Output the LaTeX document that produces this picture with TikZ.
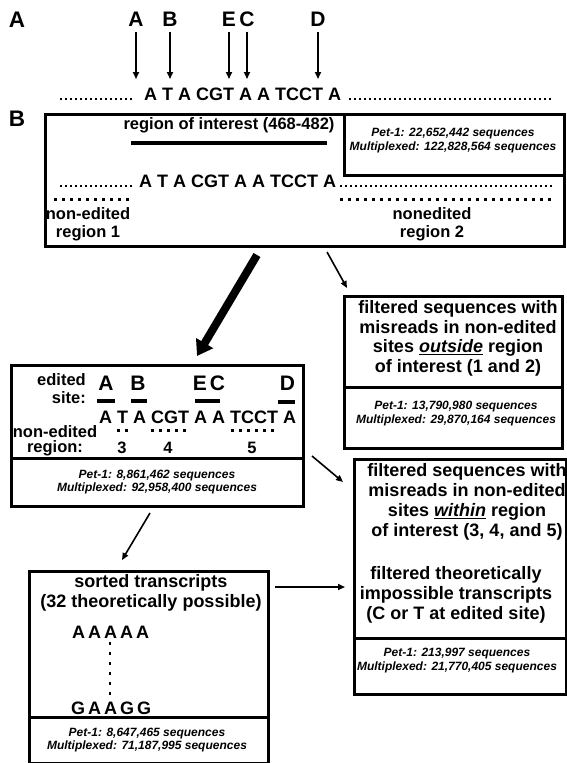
\documentclass[tikz,border=0pt]{standalone}
\usepackage{fontspec}
\setmainfont{Liberation Sans}
\usetikzlibrary{arrows.meta}

\newcommand\bodyfont{\fontsize{18}{19.5}\selectfont\bfseries}
\newcommand\midfont{\fontsize{16.5}{18}\selectfont\bfseries}
\newcommand\statfont{\fontsize{12}{13.8}\selectfont\bfseries\itshape}
\newcommand\sitefont{\fontsize{21}{22}\selectfont\bfseries}
\newcommand\panelfont{\fontsize{22.5}{24}\selectfont\bfseries}

\begin{document}
\begin{tikzpicture}[x=1pt,y=-1pt,
  box/.style={draw, line width=3pt, rectangle, anchor=north west, inner sep=0pt},
  rule/.style={line width=3pt},
  conn/.style={line width=1.6pt, -{Triangle[width=6pt,length=7pt]}},
  fatconn/.style={line width=8pt, -{Triangle[width=19pt,length=15pt]}},
  periods/.style={line width=1.6pt, dash pattern=on 1.6pt off 3.4pt},
  squares/.style={line width=3pt, dash pattern=on 3pt off 5pt},
  colrule/.style={line width=2.5pt, dash pattern=on 2.5pt off 7.5pt},
  bar/.style={line width=3.5pt},
  lbl/.style={inner sep=0pt},
  body/.style={lbl, font=\bodyfont, align=center},
  med/.style={lbl, font=\midfont, align=center},
  stat/.style={lbl, font=\statfont, align=center},
  site/.style={lbl, font=\sitefont},
  seq/.style={lbl, font=\bodyfont, anchor=west},
  panel/.style={lbl, font=\panelfont}]

\useasboundingbox (0,0) rectangle (566,763);

% ---------- panel A: edited sites on the sequence
\node[panel] (labA) at (17,20) {A};
\foreach \n/\x/\t in {sA/136/A, sB/170/B, sE/229/E, sC/247/C, sD/318/D} {
  \node[site] (\n) at (\x,19.5) {\t};
  \coordinate (\n-top) at (\x,32);
  \coordinate (\n-tip) at (\x,79);
  \draw[conn] (\n-top) -- (\n-tip);
}
\node[seq] (seqA) at (144,94) {A T A CGT A A TCCT A};
\draw[periods] (60,99) -- (134,99);
\draw[periods] (349,99) -- (553,99);

% ---------- panel B: full read
\node[panel] (labB) at (17,119) {B};
\node[box, minimum width=519pt, minimum height=132pt] (boxB) at (44,113) {};
\node[box, minimum width=220pt, minimum height=61pt] (statB) at (343,113) {};
\node[stat] (statBt) at (453,140.5) {Pet-1: 22,652,442 sequences\\Multiplexed: 122,828,564 sequences};
\node[med] (roi) at (229,125) {region of interest (468-482)};
\draw[line width=4pt] (131,143) -- (327,143);
\node[seq] (seqB) at (139,181) {A T A CGT A A TCCT A};
\draw[periods] (60,186) -- (132,186);
\draw[periods] (340,186) -- (553,186);
\draw[squares] (54,199) -- (132,199);
\draw[squares] (340,199) -- (553,199);
\node[med] (ne1) at (88,224) {non-edited\\region 1};
\node[med] (ne2) at (432,224) {nonedited\\region 2};

% ---------- filtered outside the region of interest
\node[box, minimum width=218pt, minimum height=152pt] (boxO) at (343,295) {};
\draw[rule] (343,387) -- (561,387);
\node[body] (txtO) at (458,338.5) {filtered sequences with\\misreads in non-edited\\sites \underline{\textit{outside}} region\\of interest (1 and 2)};
\node[stat] (statO) at (456,413.5) {Pet-1: 13,790,980 sequences\\Multiplexed: 29,870,164 sequences};

% ---------- region of interest with edited sites
\node[box, minimum width=292pt, minimum height=141pt] (boxM) at (10,364) {};
\draw[rule] (10,458) -- (302,458);
\node[med, align=right, anchor=east] (edl) at (86,389) {edited\\site:};
\foreach \n/\x/\t in {mA/106/A, mB/138/B, mE/200/E, mC/217.5/C, mD/287.5/D}
  \node[site] (\n) at (\x,383) {\t};
\draw[bar] (97,401) -- (115,401);
\draw[bar] (131,401) -- (147,401);
\draw[bar] (195,401) -- (220,401);
\draw[bar] (278,402) -- (295,402);
\node[seq] (seqM) at (99,417) {A T A CGT A A TCCT A};
\draw[squares] (117,430) -- (129,430);
\draw[squares] (151,430) -- (187,430);
\draw[squares] (231,430) -- (275,430);
\node[med, font=\fontsize{16.5}{15.5}\selectfont\bfseries] (nel) at (55,441) {non-edited\\region:};
\node[med] (r3) at (122,448) {3};
\node[med] (r4) at (168,448) {4};
\node[med] (r5) at (252,448) {5};
\node[stat] (statM) at (157,482) {Pet-1: 8,861,462 sequences\\Multiplexed: 92,958,400 sequences};

% ---------- filtered within the region of interest
\node[box, minimum width=212pt, minimum height=235pt] (boxW) at (353,458) {};
\draw[rule] (353,638) -- (565,638);
\node[body, font=\fontsize{18}{20}\selectfont\bfseries] (txtW) at (467,502) {filtered sequences with\\misreads in non-edited\\sites \underline{\textit{within}} region\\of interest (3, 4, and 5)};
\node[body, font=\fontsize{18}{20}\selectfont\bfseries] (txtI) at (456,595) {filtered theoretically\\impossible transcripts\\(C or T at edited site)};
\node[stat] (statW) at (457,660.5) {Pet-1: 213,997 sequences\\Multiplexed: 21,770,405 sequences};

% ---------- sorted transcripts
\node[box, minimum width=239pt, minimum height=192pt] (boxS) at (28,570) {};
\draw[rule] (28,717) -- (267,717);
\node[body, font=\fontsize{18}{20}\selectfont\bfseries] (txtS) at (151,593) {sorted transcripts\\(32 theoretically possible)};
\node[seq] (aaaaa) at (72,632) {A\,A\,A\,A\,A};
\draw[colrule] (110,642) -- (110,697);
\node[seq] (gaagg) at (71,708) {G\,A\,A\,G\,G};
\node[stat] (statS) at (147,740) {Pet-1: 8,647,465 sequences\\Multiplexed: 71,187,995 sequences};

% ---------- connectors
\coordinate (fatS) at (257,255);
\coordinate (fatE) at (197,356);
\draw[fatconn] (fatS) -- (fatE);
\coordinate (oS) at (327,252);
\coordinate (oE) at (347,288);
\draw[conn] (oS) -- (oE);
\coordinate (wS) at (312,456);
\coordinate (wE) at (343,482);
\draw[conn] (wS) -- (wE);
\coordinate (sS) at (150,513);
\coordinate (sE) at (122,560);
\draw[conn] (sS) -- (sE);
\coordinate (iS) at (275,587);
\coordinate (iE) at (345,587);
\draw[conn] (iS) -- (iE);
\end{tikzpicture}
\end{document}
